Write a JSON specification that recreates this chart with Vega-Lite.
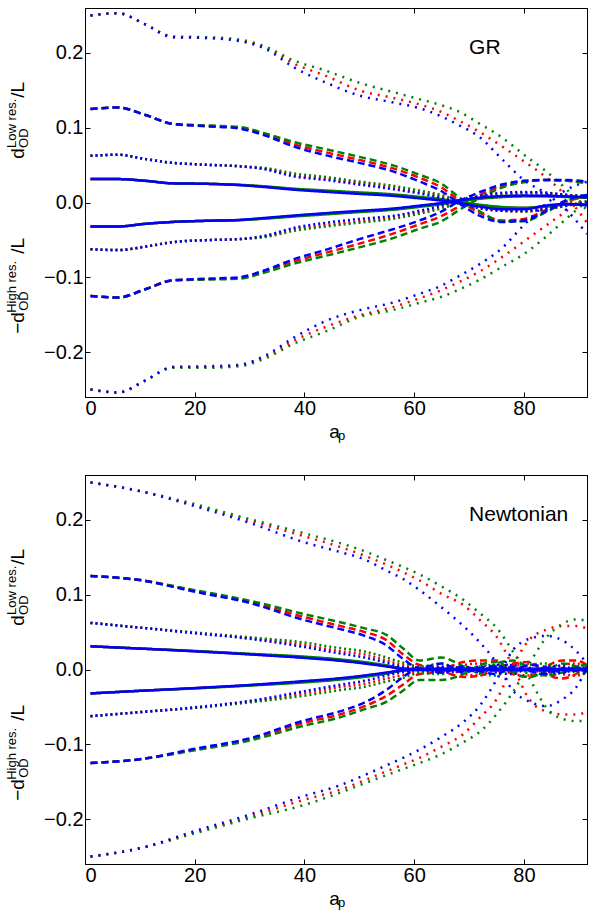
{
"$schema": "https://vega.github.io/schema/vega-lite/v6.json",
"padding": {"left": 5, "top": 7, "right": 1, "bottom": 3},
"spacing": 30,
"config": {
  "font": "Liberation Sans",
  "view": {"stroke": "black", "strokeWidth": 1},
  "axis": {"grid": false, "domainColor": "black", "tickColor": "black", "labelColor": "black", "labelFont": "Liberation Sans", "labelFontSize": 20, "tickWidth": 1},
  "text": {"font": "Liberation Sans", "color": "black"}
},
"datasets": {
"one": [{}],
"gr": [
{"c":"r","s":"sd","h":"u","x":1,"y":0.250},{"c":"r","s":"sd","h":"u","x":6,"y":0.253},{"c":"r","s":"sd","h":"u","x":11,"y":0.238},{"c":"r","s":"sd","h":"u","x":16,"y":0.221},{"c":"r","s":"sd","h":"u","x":22,"y":0.220},{"c":"r","s":"sd","h":"u","x":28,"y":0.217},{"c":"r","s":"sd","h":"u","x":33,"y":0.207},{"c":"r","s":"sd","h":"u","x":38,"y":0.186},{"c":"r","s":"sd","h":"u","x":44,"y":0.169},{"c":"r","s":"sd","h":"u","x":50,"y":0.150},{"c":"r","s":"sd","h":"u","x":56,"y":0.140},{"c":"r","s":"sd","h":"u","x":61,"y":0.131},{"c":"r","s":"sd","h":"u","x":65,"y":0.121},{"c":"r","s":"sd","h":"u","x":68,"y":0.110},{"c":"r","s":"sd","h":"u","x":72,"y":0.094},{"c":"r","s":"sd","h":"u","x":76,"y":0.075},{"c":"r","s":"sd","h":"u","x":80,"y":0.055},{"c":"r","s":"sd","h":"u","x":84,"y":0.034},{"c":"r","s":"sd","h":"u","x":88,"y":0.006},{"c":"r","s":"sd","h":"u","x":91.5,"y":-0.027},
{"c":"r","s":"sd","h":"l","x":1,"y":-0.250},{"c":"r","s":"sd","h":"l","x":6,"y":-0.254},{"c":"r","s":"sd","h":"l","x":11,"y":-0.238},{"c":"r","s":"sd","h":"l","x":16,"y":-0.220},{"c":"r","s":"sd","h":"l","x":22,"y":-0.220},{"c":"r","s":"sd","h":"l","x":28,"y":-0.218},{"c":"r","s":"sd","h":"l","x":33,"y":-0.206},{"c":"r","s":"sd","h":"l","x":38,"y":-0.185},{"c":"r","s":"sd","h":"l","x":44,"y":-0.166},{"c":"r","s":"sd","h":"l","x":50,"y":-0.151},{"c":"r","s":"sd","h":"l","x":56,"y":-0.140},{"c":"r","s":"sd","h":"l","x":61,"y":-0.128},{"c":"r","s":"sd","h":"l","x":65,"y":-0.117},{"c":"r","s":"sd","h":"l","x":68,"y":-0.107},{"c":"r","s":"sd","h":"l","x":72,"y":-0.092},{"c":"r","s":"sd","h":"l","x":76,"y":-0.073},{"c":"r","s":"sd","h":"l","x":80,"y":-0.052},{"c":"r","s":"sd","h":"l","x":84,"y":-0.031},{"c":"r","s":"sd","h":"l","x":88,"y":-0.010},{"c":"r","s":"sd","h":"l","x":91.5,"y":0.008},
{"c":"r","s":"da","h":"u","x":1,"y":0.125},{"c":"r","s":"da","h":"u","x":6,"y":0.127},{"c":"r","s":"da","h":"u","x":11,"y":0.117},{"c":"r","s":"da","h":"u","x":16,"y":0.105},{"c":"r","s":"da","h":"u","x":22,"y":0.1025},{"c":"r","s":"da","h":"u","x":28,"y":0.100},{"c":"r","s":"da","h":"u","x":33,"y":0.091},{"c":"r","s":"da","h":"u","x":38,"y":0.078},{"c":"r","s":"da","h":"u","x":44,"y":0.067},{"c":"r","s":"da","h":"u","x":50,"y":0.057},{"c":"r","s":"da","h":"u","x":56,"y":0.046},{"c":"r","s":"da","h":"u","x":61,"y":0.033},{"c":"r","s":"da","h":"u","x":65,"y":0.020},{"c":"r","s":"da","h":"u","x":68,"y":0.004},{"c":"r","s":"da","h":"u","x":72,"y":-0.014},{"c":"r","s":"da","h":"u","x":76,"y":-0.024},{"c":"r","s":"da","h":"u","x":80,"y":-0.022},{"c":"r","s":"da","h":"u","x":84,"y":-0.010},{"c":"r","s":"da","h":"u","x":88,"y":0.002},{"c":"r","s":"da","h":"u","x":91.5,"y":0.008},
{"c":"r","s":"da","h":"l","x":1,"y":-0.125},{"c":"r","s":"da","h":"l","x":6,"y":-0.127},{"c":"r","s":"da","h":"l","x":11,"y":-0.116},{"c":"r","s":"da","h":"l","x":16,"y":-0.104},{"c":"r","s":"da","h":"l","x":22,"y":-0.1025},{"c":"r","s":"da","h":"l","x":28,"y":-0.101},{"c":"r","s":"da","h":"l","x":33,"y":-0.092},{"c":"r","s":"da","h":"l","x":38,"y":-0.079},{"c":"r","s":"da","h":"l","x":44,"y":-0.067},{"c":"r","s":"da","h":"l","x":50,"y":-0.055},{"c":"r","s":"da","h":"l","x":56,"y":-0.042},{"c":"r","s":"da","h":"l","x":61,"y":-0.029},{"c":"r","s":"da","h":"l","x":65,"y":-0.018},{"c":"r","s":"da","h":"l","x":68,"y":-0.006},{"c":"r","s":"da","h":"l","x":72,"y":0.010},{"c":"r","s":"da","h":"l","x":76,"y":0.022},{"c":"r","s":"da","h":"l","x":80,"y":0.028},{"c":"r","s":"da","h":"l","x":84,"y":0.030},{"c":"r","s":"da","h":"l","x":88,"y":0.029},{"c":"r","s":"da","h":"l","x":91.5,"y":0.026},
{"c":"r","s":"do","h":"u","x":1,"y":0.0625},{"c":"r","s":"do","h":"u","x":6,"y":0.0638},{"c":"r","s":"do","h":"u","x":11,"y":0.058},{"c":"r","s":"do","h":"u","x":16,"y":0.053},{"c":"r","s":"do","h":"u","x":22,"y":0.0505},{"c":"r","s":"do","h":"u","x":28,"y":0.0485},{"c":"r","s":"do","h":"u","x":33,"y":0.045},{"c":"r","s":"do","h":"u","x":38,"y":0.037},{"c":"r","s":"do","h":"u","x":44,"y":0.032},{"c":"r","s":"do","h":"u","x":50,"y":0.026},{"c":"r","s":"do","h":"u","x":56,"y":0.020},{"c":"r","s":"do","h":"u","x":61,"y":0.014},{"c":"r","s":"do","h":"u","x":65,"y":0.008},{"c":"r","s":"do","h":"u","x":68,"y":0.001},{"c":"r","s":"do","h":"u","x":72,"y":-0.007},{"c":"r","s":"do","h":"u","x":76,"y":-0.011},{"c":"r","s":"do","h":"u","x":80,"y":-0.012},{"c":"r","s":"do","h":"u","x":84,"y":-0.009},{"c":"r","s":"do","h":"u","x":88,"y":-0.004},{"c":"r","s":"do","h":"u","x":91.5,"y":0.001},
{"c":"r","s":"do","h":"l","x":1,"y":-0.0625},{"c":"r","s":"do","h":"l","x":6,"y":-0.0636},{"c":"r","s":"do","h":"l","x":11,"y":-0.059},{"c":"r","s":"do","h":"l","x":16,"y":-0.053},{"c":"r","s":"do","h":"l","x":22,"y":-0.0503},{"c":"r","s":"do","h":"l","x":28,"y":-0.049},{"c":"r","s":"do","h":"l","x":33,"y":-0.045},{"c":"r","s":"do","h":"l","x":38,"y":-0.036},{"c":"r","s":"do","h":"l","x":44,"y":-0.030},{"c":"r","s":"do","h":"l","x":50,"y":-0.025},{"c":"r","s":"do","h":"l","x":56,"y":-0.020},{"c":"r","s":"do","h":"l","x":61,"y":-0.013},{"c":"r","s":"do","h":"l","x":65,"y":-0.006},{"c":"r","s":"do","h":"l","x":68,"y":0.001},{"c":"r","s":"do","h":"l","x":72,"y":0.008},{"c":"r","s":"do","h":"l","x":76,"y":0.012},{"c":"r","s":"do","h":"l","x":80,"y":0.013},{"c":"r","s":"do","h":"l","x":84,"y":0.013},{"c":"r","s":"do","h":"l","x":88,"y":0.010},{"c":"r","s":"do","h":"l","x":91.5,"y":0.008},
{"c":"r","s":"so","h":"u","x":1,"y":0.0313},{"c":"r","s":"so","h":"u","x":6,"y":0.0313},{"c":"r","s":"so","h":"u","x":11,"y":0.029},{"c":"r","s":"so","h":"u","x":16,"y":0.0256},{"c":"r","s":"so","h":"u","x":22,"y":0.025},{"c":"r","s":"so","h":"u","x":28,"y":0.0235},{"c":"r","s":"so","h":"u","x":33,"y":0.021},{"c":"r","s":"so","h":"u","x":38,"y":0.0178},{"c":"r","s":"so","h":"u","x":44,"y":0.015},{"c":"r","s":"so","h":"u","x":50,"y":0.0125},{"c":"r","s":"so","h":"u","x":56,"y":0.010},{"c":"r","s":"so","h":"u","x":61,"y":0.0065},{"c":"r","s":"so","h":"u","x":65,"y":0.0035},{"c":"r","s":"so","h":"u","x":68,"y":0.0005},{"c":"r","s":"so","h":"u","x":72,"y":-0.0035},{"c":"r","s":"so","h":"u","x":76,"y":-0.0065},{"c":"r","s":"so","h":"u","x":80,"y":-0.0075},{"c":"r","s":"so","h":"u","x":84,"y":-0.0055},{"c":"r","s":"so","h":"u","x":88,"y":-0.003},{"c":"r","s":"so","h":"u","x":91.5,"y":-0.003},
{"c":"r","s":"so","h":"l","x":1,"y":-0.032},{"c":"r","s":"so","h":"l","x":6,"y":-0.032},{"c":"r","s":"so","h":"l","x":11,"y":-0.0285},{"c":"r","s":"so","h":"l","x":16,"y":-0.026},{"c":"r","s":"so","h":"l","x":22,"y":-0.0245},{"c":"r","s":"so","h":"l","x":28,"y":-0.0235},{"c":"r","s":"so","h":"l","x":33,"y":-0.021},{"c":"r","s":"so","h":"l","x":38,"y":-0.018},{"c":"r","s":"so","h":"l","x":44,"y":-0.0148},{"c":"r","s":"so","h":"l","x":50,"y":-0.0118},{"c":"r","s":"so","h":"l","x":56,"y":-0.0088},{"c":"r","s":"so","h":"l","x":61,"y":-0.0048},{"c":"r","s":"so","h":"l","x":65,"y":-0.0013},{"c":"r","s":"so","h":"l","x":68,"y":0.0018},{"c":"r","s":"so","h":"l","x":72,"y":0.0058},{"c":"r","s":"so","h":"l","x":76,"y":0.0078},{"c":"r","s":"so","h":"l","x":80,"y":0.0088},{"c":"r","s":"so","h":"l","x":84,"y":0.0088},{"c":"r","s":"so","h":"l","x":88,"y":0.0078},{"c":"r","s":"so","h":"l","x":91.5,"y":0.0068},
{"c":"g","s":"sd","h":"u","x":1,"y":0.250},{"c":"g","s":"sd","h":"u","x":6,"y":0.253},{"c":"g","s":"sd","h":"u","x":11,"y":0.238},{"c":"g","s":"sd","h":"u","x":16,"y":0.222},{"c":"g","s":"sd","h":"u","x":22,"y":0.221},{"c":"g","s":"sd","h":"u","x":28,"y":0.218},{"c":"g","s":"sd","h":"u","x":33,"y":0.208},{"c":"g","s":"sd","h":"u","x":38,"y":0.190},{"c":"g","s":"sd","h":"u","x":44,"y":0.176},{"c":"g","s":"sd","h":"u","x":50,"y":0.160},{"c":"g","s":"sd","h":"u","x":56,"y":0.148},{"c":"g","s":"sd","h":"u","x":61,"y":0.138},{"c":"g","s":"sd","h":"u","x":65,"y":0.130},{"c":"g","s":"sd","h":"u","x":68,"y":0.122},{"c":"g","s":"sd","h":"u","x":72,"y":0.105},{"c":"g","s":"sd","h":"u","x":76,"y":0.087},{"c":"g","s":"sd","h":"u","x":80,"y":0.064},{"c":"g","s":"sd","h":"u","x":84,"y":0.042},{"c":"g","s":"sd","h":"u","x":88,"y":0.016},{"c":"g","s":"sd","h":"u","x":91.5,"y":-0.010},
{"c":"g","s":"sd","h":"l","x":1,"y":-0.250},{"c":"g","s":"sd","h":"l","x":6,"y":-0.254},{"c":"g","s":"sd","h":"l","x":11,"y":-0.238},{"c":"g","s":"sd","h":"l","x":16,"y":-0.221},{"c":"g","s":"sd","h":"l","x":22,"y":-0.221},{"c":"g","s":"sd","h":"l","x":28,"y":-0.219},{"c":"g","s":"sd","h":"l","x":33,"y":-0.208},{"c":"g","s":"sd","h":"l","x":38,"y":-0.189},{"c":"g","s":"sd","h":"l","x":44,"y":-0.172},{"c":"g","s":"sd","h":"l","x":50,"y":-0.153},{"c":"g","s":"sd","h":"l","x":56,"y":-0.144},{"c":"g","s":"sd","h":"l","x":61,"y":-0.134},{"c":"g","s":"sd","h":"l","x":65,"y":-0.126},{"c":"g","s":"sd","h":"l","x":68,"y":-0.117},{"c":"g","s":"sd","h":"l","x":72,"y":-0.103},{"c":"g","s":"sd","h":"l","x":76,"y":-0.086},{"c":"g","s":"sd","h":"l","x":80,"y":-0.069},{"c":"g","s":"sd","h":"l","x":84,"y":-0.046},{"c":"g","s":"sd","h":"l","x":88,"y":-0.020},{"c":"g","s":"sd","h":"l","x":91.5,"y":0.002},
{"c":"g","s":"da","h":"u","x":1,"y":0.125},{"c":"g","s":"da","h":"u","x":6,"y":0.127},{"c":"g","s":"da","h":"u","x":11,"y":0.117},{"c":"g","s":"da","h":"u","x":16,"y":0.105},{"c":"g","s":"da","h":"u","x":22,"y":0.103},{"c":"g","s":"da","h":"u","x":28,"y":0.101},{"c":"g","s":"da","h":"u","x":33,"y":0.092},{"c":"g","s":"da","h":"u","x":38,"y":0.081},{"c":"g","s":"da","h":"u","x":44,"y":0.071},{"c":"g","s":"da","h":"u","x":50,"y":0.061},{"c":"g","s":"da","h":"u","x":56,"y":0.050},{"c":"g","s":"da","h":"u","x":61,"y":0.037},{"c":"g","s":"da","h":"u","x":65,"y":0.025},{"c":"g","s":"da","h":"u","x":68,"y":0.008},{"c":"g","s":"da","h":"u","x":72,"y":-0.012},{"c":"g","s":"da","h":"u","x":76,"y":-0.025},{"c":"g","s":"da","h":"u","x":80,"y":-0.025},{"c":"g","s":"da","h":"u","x":84,"y":-0.013},{"c":"g","s":"da","h":"u","x":88,"y":0.002},{"c":"g","s":"da","h":"u","x":91.5,"y":0.010},
{"c":"g","s":"da","h":"l","x":1,"y":-0.125},{"c":"g","s":"da","h":"l","x":6,"y":-0.127},{"c":"g","s":"da","h":"l","x":11,"y":-0.116},{"c":"g","s":"da","h":"l","x":16,"y":-0.104},{"c":"g","s":"da","h":"l","x":22,"y":-0.103},{"c":"g","s":"da","h":"l","x":28,"y":-0.102},{"c":"g","s":"da","h":"l","x":33,"y":-0.093},{"c":"g","s":"da","h":"l","x":38,"y":-0.082},{"c":"g","s":"da","h":"l","x":44,"y":-0.071},{"c":"g","s":"da","h":"l","x":50,"y":-0.060},{"c":"g","s":"da","h":"l","x":56,"y":-0.048},{"c":"g","s":"da","h":"l","x":61,"y":-0.035},{"c":"g","s":"da","h":"l","x":65,"y":-0.025},{"c":"g","s":"da","h":"l","x":68,"y":-0.011},{"c":"g","s":"da","h":"l","x":72,"y":0.006},{"c":"g","s":"da","h":"l","x":76,"y":0.020},{"c":"g","s":"da","h":"l","x":80,"y":0.027},{"c":"g","s":"da","h":"l","x":84,"y":0.030},{"c":"g","s":"da","h":"l","x":88,"y":0.029},{"c":"g","s":"da","h":"l","x":91.5,"y":0.026},
{"c":"g","s":"do","h":"u","x":1,"y":0.0625},{"c":"g","s":"do","h":"u","x":6,"y":0.0638},{"c":"g","s":"do","h":"u","x":11,"y":0.058},{"c":"g","s":"do","h":"u","x":16,"y":0.053},{"c":"g","s":"do","h":"u","x":22,"y":0.0505},{"c":"g","s":"do","h":"u","x":28,"y":0.0485},{"c":"g","s":"do","h":"u","x":33,"y":0.046},{"c":"g","s":"do","h":"u","x":38,"y":0.039},{"c":"g","s":"do","h":"u","x":44,"y":0.034},{"c":"g","s":"do","h":"u","x":50,"y":0.028},{"c":"g","s":"do","h":"u","x":56,"y":0.0225},{"c":"g","s":"do","h":"u","x":61,"y":0.016},{"c":"g","s":"do","h":"u","x":65,"y":0.010},{"c":"g","s":"do","h":"u","x":68,"y":0.003},{"c":"g","s":"do","h":"u","x":72,"y":-0.006},{"c":"g","s":"do","h":"u","x":76,"y":-0.011},{"c":"g","s":"do","h":"u","x":80,"y":-0.012},{"c":"g","s":"do","h":"u","x":84,"y":-0.009},{"c":"g","s":"do","h":"u","x":88,"y":-0.004},{"c":"g","s":"do","h":"u","x":91.5,"y":0.002},
{"c":"g","s":"do","h":"l","x":1,"y":-0.0625},{"c":"g","s":"do","h":"l","x":6,"y":-0.0636},{"c":"g","s":"do","h":"l","x":11,"y":-0.059},{"c":"g","s":"do","h":"l","x":16,"y":-0.053},{"c":"g","s":"do","h":"l","x":22,"y":-0.0503},{"c":"g","s":"do","h":"l","x":28,"y":-0.049},{"c":"g","s":"do","h":"l","x":33,"y":-0.046},{"c":"g","s":"do","h":"l","x":38,"y":-0.038},{"c":"g","s":"do","h":"l","x":44,"y":-0.032},{"c":"g","s":"do","h":"l","x":50,"y":-0.027},{"c":"g","s":"do","h":"l","x":56,"y":-0.022},{"c":"g","s":"do","h":"l","x":61,"y":-0.015},{"c":"g","s":"do","h":"l","x":65,"y":-0.008},{"c":"g","s":"do","h":"l","x":68,"y":-0.001},{"c":"g","s":"do","h":"l","x":72,"y":0.006},{"c":"g","s":"do","h":"l","x":76,"y":0.010},{"c":"g","s":"do","h":"l","x":80,"y":0.012},{"c":"g","s":"do","h":"l","x":84,"y":0.012},{"c":"g","s":"do","h":"l","x":88,"y":0.010},{"c":"g","s":"do","h":"l","x":91.5,"y":0.009},
{"c":"g","s":"so","h":"u","x":1,"y":0.0313},{"c":"g","s":"so","h":"u","x":6,"y":0.0313},{"c":"g","s":"so","h":"u","x":11,"y":0.029},{"c":"g","s":"so","h":"u","x":16,"y":0.0256},{"c":"g","s":"so","h":"u","x":22,"y":0.025},{"c":"g","s":"so","h":"u","x":28,"y":0.0237},{"c":"g","s":"so","h":"u","x":33,"y":0.0215},{"c":"g","s":"so","h":"u","x":38,"y":0.0185},{"c":"g","s":"so","h":"u","x":44,"y":0.016},{"c":"g","s":"so","h":"u","x":50,"y":0.0135},{"c":"g","s":"so","h":"u","x":56,"y":0.011},{"c":"g","s":"so","h":"u","x":61,"y":0.0075},{"c":"g","s":"so","h":"u","x":65,"y":0.0045},{"c":"g","s":"so","h":"u","x":68,"y":0.001},{"c":"g","s":"so","h":"u","x":72,"y":-0.003},{"c":"g","s":"so","h":"u","x":76,"y":-0.006},{"c":"g","s":"so","h":"u","x":80,"y":-0.007},{"c":"g","s":"so","h":"u","x":84,"y":-0.005},{"c":"g","s":"so","h":"u","x":88,"y":-0.0025},{"c":"g","s":"so","h":"u","x":91.5,"y":-0.0025},
{"c":"g","s":"so","h":"l","x":1,"y":-0.032},{"c":"g","s":"so","h":"l","x":6,"y":-0.032},{"c":"g","s":"so","h":"l","x":11,"y":-0.0285},{"c":"g","s":"so","h":"l","x":16,"y":-0.026},{"c":"g","s":"so","h":"l","x":22,"y":-0.0245},{"c":"g","s":"so","h":"l","x":28,"y":-0.0237},{"c":"g","s":"so","h":"l","x":33,"y":-0.0215},{"c":"g","s":"so","h":"l","x":38,"y":-0.0188},{"c":"g","s":"so","h":"l","x":44,"y":-0.0158},{"c":"g","s":"so","h":"l","x":50,"y":-0.0128},{"c":"g","s":"so","h":"l","x":56,"y":-0.0098},{"c":"g","s":"so","h":"l","x":61,"y":-0.0058},{"c":"g","s":"so","h":"l","x":65,"y":-0.0023},{"c":"g","s":"so","h":"l","x":68,"y":0.001},{"c":"g","s":"so","h":"l","x":72,"y":0.005},{"c":"g","s":"so","h":"l","x":76,"y":0.0072},{"c":"g","s":"so","h":"l","x":80,"y":0.0082},{"c":"g","s":"so","h":"l","x":84,"y":0.0082},{"c":"g","s":"so","h":"l","x":88,"y":0.0072},{"c":"g","s":"so","h":"l","x":91.5,"y":0.0062},
{"c":"b","s":"sd","h":"u","x":1,"y":0.250},{"c":"b","s":"sd","h":"u","x":6,"y":0.253},{"c":"b","s":"sd","h":"u","x":11,"y":0.238},{"c":"b","s":"sd","h":"u","x":16,"y":0.221},{"c":"b","s":"sd","h":"u","x":22,"y":0.220},{"c":"b","s":"sd","h":"u","x":28,"y":0.216},{"c":"b","s":"sd","h":"u","x":33,"y":0.205},{"c":"b","s":"sd","h":"u","x":38,"y":0.181},{"c":"b","s":"sd","h":"u","x":44,"y":0.160},{"c":"b","s":"sd","h":"u","x":50,"y":0.143},{"c":"b","s":"sd","h":"u","x":56,"y":0.134},{"c":"b","s":"sd","h":"u","x":61,"y":0.126},{"c":"b","s":"sd","h":"u","x":65,"y":0.115},{"c":"b","s":"sd","h":"u","x":68,"y":0.104},{"c":"b","s":"sd","h":"u","x":72,"y":0.087},{"c":"b","s":"sd","h":"u","x":76,"y":0.058},{"c":"b","s":"sd","h":"u","x":80,"y":0.030},{"c":"b","s":"sd","h":"u","x":84,"y":0.012},{"c":"b","s":"sd","h":"u","x":88,"y":-0.012},{"c":"b","s":"sd","h":"u","x":91.5,"y":-0.042},
{"c":"b","s":"sd","h":"l","x":1,"y":-0.250},{"c":"b","s":"sd","h":"l","x":6,"y":-0.254},{"c":"b","s":"sd","h":"l","x":11,"y":-0.238},{"c":"b","s":"sd","h":"l","x":16,"y":-0.220},{"c":"b","s":"sd","h":"l","x":22,"y":-0.219},{"c":"b","s":"sd","h":"l","x":28,"y":-0.217},{"c":"b","s":"sd","h":"l","x":33,"y":-0.204},{"c":"b","s":"sd","h":"l","x":38,"y":-0.181},{"c":"b","s":"sd","h":"l","x":44,"y":-0.158},{"c":"b","s":"sd","h":"l","x":50,"y":-0.144},{"c":"b","s":"sd","h":"l","x":56,"y":-0.134},{"c":"b","s":"sd","h":"l","x":61,"y":-0.122},{"c":"b","s":"sd","h":"l","x":65,"y":-0.111},{"c":"b","s":"sd","h":"l","x":68,"y":-0.099},{"c":"b","s":"sd","h":"l","x":72,"y":-0.082},{"c":"b","s":"sd","h":"l","x":76,"y":-0.061},{"c":"b","s":"sd","h":"l","x":80,"y":-0.030},{"c":"b","s":"sd","h":"l","x":84,"y":-0.002},{"c":"b","s":"sd","h":"l","x":88,"y":0.018},{"c":"b","s":"sd","h":"l","x":91.5,"y":0.028},
{"c":"b","s":"da","h":"u","x":1,"y":0.125},{"c":"b","s":"da","h":"u","x":6,"y":0.127},{"c":"b","s":"da","h":"u","x":11,"y":0.117},{"c":"b","s":"da","h":"u","x":16,"y":0.105},{"c":"b","s":"da","h":"u","x":22,"y":0.102},{"c":"b","s":"da","h":"u","x":28,"y":0.099},{"c":"b","s":"da","h":"u","x":33,"y":0.089},{"c":"b","s":"da","h":"u","x":38,"y":0.075},{"c":"b","s":"da","h":"u","x":44,"y":0.063},{"c":"b","s":"da","h":"u","x":50,"y":0.053},{"c":"b","s":"da","h":"u","x":56,"y":0.042},{"c":"b","s":"da","h":"u","x":61,"y":0.028},{"c":"b","s":"da","h":"u","x":65,"y":0.015},{"c":"b","s":"da","h":"u","x":68,"y":0.000},{"c":"b","s":"da","h":"u","x":72,"y":-0.018},{"c":"b","s":"da","h":"u","x":76,"y":-0.026},{"c":"b","s":"da","h":"u","x":80,"y":-0.024},{"c":"b","s":"da","h":"u","x":84,"y":-0.012},{"c":"b","s":"da","h":"u","x":88,"y":0.004},{"c":"b","s":"da","h":"u","x":91.5,"y":0.010},
{"c":"b","s":"da","h":"l","x":1,"y":-0.125},{"c":"b","s":"da","h":"l","x":6,"y":-0.127},{"c":"b","s":"da","h":"l","x":11,"y":-0.116},{"c":"b","s":"da","h":"l","x":16,"y":-0.104},{"c":"b","s":"da","h":"l","x":22,"y":-0.102},{"c":"b","s":"da","h":"l","x":28,"y":-0.100},{"c":"b","s":"da","h":"l","x":33,"y":-0.090},{"c":"b","s":"da","h":"l","x":38,"y":-0.076},{"c":"b","s":"da","h":"l","x":44,"y":-0.063},{"c":"b","s":"da","h":"l","x":50,"y":-0.049},{"c":"b","s":"da","h":"l","x":56,"y":-0.036},{"c":"b","s":"da","h":"l","x":61,"y":-0.024},{"c":"b","s":"da","h":"l","x":65,"y":-0.012},{"c":"b","s":"da","h":"l","x":68,"y":0.001},{"c":"b","s":"da","h":"l","x":72,"y":0.014},{"c":"b","s":"da","h":"l","x":76,"y":0.024},{"c":"b","s":"da","h":"l","x":80,"y":0.029},{"c":"b","s":"da","h":"l","x":84,"y":0.030},{"c":"b","s":"da","h":"l","x":88,"y":0.030},{"c":"b","s":"da","h":"l","x":91.5,"y":0.028},
{"c":"b","s":"do","h":"u","x":1,"y":0.0625},{"c":"b","s":"do","h":"u","x":6,"y":0.0638},{"c":"b","s":"do","h":"u","x":11,"y":0.058},{"c":"b","s":"do","h":"u","x":16,"y":0.053},{"c":"b","s":"do","h":"u","x":22,"y":0.0505},{"c":"b","s":"do","h":"u","x":28,"y":0.0485},{"c":"b","s":"do","h":"u","x":33,"y":0.044},{"c":"b","s":"do","h":"u","x":38,"y":0.035},{"c":"b","s":"do","h":"u","x":44,"y":0.030},{"c":"b","s":"do","h":"u","x":50,"y":0.024},{"c":"b","s":"do","h":"u","x":56,"y":0.018},{"c":"b","s":"do","h":"u","x":61,"y":0.012},{"c":"b","s":"do","h":"u","x":65,"y":0.006},{"c":"b","s":"do","h":"u","x":68,"y":0.000},{"c":"b","s":"do","h":"u","x":72,"y":-0.008},{"c":"b","s":"do","h":"u","x":76,"y":-0.011},{"c":"b","s":"do","h":"u","x":80,"y":-0.011},{"c":"b","s":"do","h":"u","x":84,"y":-0.008},{"c":"b","s":"do","h":"u","x":88,"y":-0.004},{"c":"b","s":"do","h":"u","x":91.5,"y":0.000},
{"c":"b","s":"do","h":"l","x":1,"y":-0.0625},{"c":"b","s":"do","h":"l","x":6,"y":-0.0636},{"c":"b","s":"do","h":"l","x":11,"y":-0.059},{"c":"b","s":"do","h":"l","x":16,"y":-0.053},{"c":"b","s":"do","h":"l","x":22,"y":-0.0503},{"c":"b","s":"do","h":"l","x":28,"y":-0.049},{"c":"b","s":"do","h":"l","x":33,"y":-0.044},{"c":"b","s":"do","h":"l","x":38,"y":-0.034},{"c":"b","s":"do","h":"l","x":44,"y":-0.027},{"c":"b","s":"do","h":"l","x":50,"y":-0.022},{"c":"b","s":"do","h":"l","x":56,"y":-0.018},{"c":"b","s":"do","h":"l","x":61,"y":-0.011},{"c":"b","s":"do","h":"l","x":65,"y":-0.004},{"c":"b","s":"do","h":"l","x":68,"y":0.003},{"c":"b","s":"do","h":"l","x":72,"y":0.009},{"c":"b","s":"do","h":"l","x":76,"y":0.013},{"c":"b","s":"do","h":"l","x":80,"y":0.014},{"c":"b","s":"do","h":"l","x":84,"y":0.013},{"c":"b","s":"do","h":"l","x":88,"y":0.010},{"c":"b","s":"do","h":"l","x":91.5,"y":0.008},
{"c":"b","s":"so","h":"u","x":1,"y":0.0313},{"c":"b","s":"so","h":"u","x":6,"y":0.0313},{"c":"b","s":"so","h":"u","x":11,"y":0.029},{"c":"b","s":"so","h":"u","x":16,"y":0.0256},{"c":"b","s":"so","h":"u","x":22,"y":0.025},{"c":"b","s":"so","h":"u","x":28,"y":0.0233},{"c":"b","s":"so","h":"u","x":33,"y":0.0205},{"c":"b","s":"so","h":"u","x":38,"y":0.0172},{"c":"b","s":"so","h":"u","x":44,"y":0.0142},{"c":"b","s":"so","h":"u","x":50,"y":0.0115},{"c":"b","s":"so","h":"u","x":56,"y":0.009},{"c":"b","s":"so","h":"u","x":61,"y":0.0055},{"c":"b","s":"so","h":"u","x":65,"y":0.0025},{"c":"b","s":"so","h":"u","x":68,"y":-0.0005},{"c":"b","s":"so","h":"u","x":72,"y":-0.0055},{"c":"b","s":"so","h":"u","x":76,"y":-0.009},{"c":"b","s":"so","h":"u","x":80,"y":-0.009},{"c":"b","s":"so","h":"u","x":84,"y":-0.004},{"c":"b","s":"so","h":"u","x":88,"y":-0.002},{"c":"b","s":"so","h":"u","x":91.5,"y":-0.004},
{"c":"b","s":"so","h":"l","x":1,"y":-0.032},{"c":"b","s":"so","h":"l","x":6,"y":-0.032},{"c":"b","s":"so","h":"l","x":11,"y":-0.0285},{"c":"b","s":"so","h":"l","x":16,"y":-0.026},{"c":"b","s":"so","h":"l","x":22,"y":-0.0245},{"c":"b","s":"so","h":"l","x":28,"y":-0.0233},{"c":"b","s":"so","h":"l","x":33,"y":-0.0205},{"c":"b","s":"so","h":"l","x":38,"y":-0.0175},{"c":"b","s":"so","h":"l","x":44,"y":-0.0142},{"c":"b","s":"so","h":"l","x":50,"y":-0.0112},{"c":"b","s":"so","h":"l","x":56,"y":-0.0082},{"c":"b","s":"so","h":"l","x":61,"y":-0.0042},{"c":"b","s":"so","h":"l","x":65,"y":-0.0007},{"c":"b","s":"so","h":"l","x":68,"y":0.0025},{"c":"b","s":"so","h":"l","x":72,"y":0.0065},{"c":"b","s":"so","h":"l","x":76,"y":0.0085},{"c":"b","s":"so","h":"l","x":80,"y":0.0092},{"c":"b","s":"so","h":"l","x":84,"y":0.009},{"c":"b","s":"so","h":"l","x":88,"y":0.008},{"c":"b","s":"so","h":"l","x":91.5,"y":0.007}
],
"nw": [
{"c":"r","s":"sd","h":"u","x":1,"y":0.250},{"c":"r","s":"sd","h":"u","x":10,"y":0.2385},{"c":"r","s":"sd","h":"u","x":20,"y":0.220},{"c":"r","s":"sd","h":"u","x":30,"y":0.199},{"c":"r","s":"sd","h":"u","x":40,"y":0.178},{"c":"r","s":"sd","h":"u","x":46,"y":0.165},{"c":"r","s":"sd","h":"u","x":51,"y":0.152},{"c":"r","s":"sd","h":"u","x":55,"y":0.140},{"c":"r","s":"sd","h":"u","x":58,"y":0.130},{"c":"r","s":"sd","h":"u","x":61,"y":0.119},{"c":"r","s":"sd","h":"u","x":65,"y":0.101},{"c":"r","s":"sd","h":"u","x":69,"y":0.086},{"c":"r","s":"sd","h":"u","x":72,"y":0.066},{"c":"r","s":"sd","h":"u","x":75,"y":0.044},{"c":"r","s":"sd","h":"u","x":78,"y":0.004},{"c":"r","s":"sd","h":"u","x":81,"y":-0.040},{"c":"r","s":"sd","h":"u","x":84,"y":-0.056},{"c":"r","s":"sd","h":"u","x":87,"y":-0.060},{"c":"r","s":"sd","h":"u","x":89.5,"y":-0.060},{"c":"r","s":"sd","h":"u","x":91.5,"y":-0.057},
{"c":"r","s":"sd","h":"l","x":1,"y":-0.250},{"c":"r","s":"sd","h":"l","x":10,"y":-0.239},{"c":"r","s":"sd","h":"l","x":20,"y":-0.218},{"c":"r","s":"sd","h":"l","x":30,"y":-0.197},{"c":"r","s":"sd","h":"l","x":40,"y":-0.174},{"c":"r","s":"sd","h":"l","x":46,"y":-0.162},{"c":"r","s":"sd","h":"l","x":51,"y":-0.148},{"c":"r","s":"sd","h":"l","x":55,"y":-0.136},{"c":"r","s":"sd","h":"l","x":58,"y":-0.127},{"c":"r","s":"sd","h":"l","x":61,"y":-0.118},{"c":"r","s":"sd","h":"l","x":65,"y":-0.103},{"c":"r","s":"sd","h":"l","x":69,"y":-0.086},{"c":"r","s":"sd","h":"l","x":72,"y":-0.064},{"c":"r","s":"sd","h":"l","x":75,"y":-0.040},{"c":"r","s":"sd","h":"l","x":78,"y":0.005},{"c":"r","s":"sd","h":"l","x":81,"y":0.040},{"c":"r","s":"sd","h":"l","x":84,"y":0.053},{"c":"r","s":"sd","h":"l","x":87,"y":0.058},{"c":"r","s":"sd","h":"l","x":89.5,"y":0.058},{"c":"r","s":"sd","h":"l","x":91.5,"y":0.055},
{"c":"r","s":"da","h":"u","x":1,"y":0.125},{"c":"r","s":"da","h":"u","x":10,"y":0.1195},{"c":"r","s":"da","h":"u","x":20,"y":0.105},{"c":"r","s":"da","h":"u","x":30,"y":0.090},{"c":"r","s":"da","h":"u","x":40,"y":0.070},{"c":"r","s":"da","h":"u","x":46,"y":0.059},{"c":"r","s":"da","h":"u","x":51,"y":0.050},{"c":"r","s":"da","h":"u","x":55,"y":0.039},{"c":"r","s":"da","h":"u","x":58,"y":0.020},{"c":"r","s":"da","h":"u","x":61,"y":0.006},{"c":"r","s":"da","h":"u","x":65,"y":0.002},{"c":"r","s":"da","h":"u","x":69,"y":0.010},{"c":"r","s":"da","h":"u","x":72,"y":0.012},{"c":"r","s":"da","h":"u","x":75,"y":0.012},{"c":"r","s":"da","h":"u","x":78,"y":-0.006},{"c":"r","s":"da","h":"u","x":81,"y":-0.010},{"c":"r","s":"da","h":"u","x":84,"y":0.004},{"c":"r","s":"da","h":"u","x":87,"y":0.012},{"c":"r","s":"da","h":"u","x":89.5,"y":0.012},{"c":"r","s":"da","h":"u","x":91.5,"y":0.006},
{"c":"r","s":"da","h":"l","x":1,"y":-0.125},{"c":"r","s":"da","h":"l","x":10,"y":-0.120},{"c":"r","s":"da","h":"l","x":20,"y":-0.107},{"c":"r","s":"da","h":"l","x":30,"y":-0.093},{"c":"r","s":"da","h":"l","x":40,"y":-0.071},{"c":"r","s":"da","h":"l","x":46,"y":-0.061},{"c":"r","s":"da","h":"l","x":51,"y":-0.049},{"c":"r","s":"da","h":"l","x":55,"y":-0.035},{"c":"r","s":"da","h":"l","x":58,"y":-0.020},{"c":"r","s":"da","h":"l","x":61,"y":-0.006},{"c":"r","s":"da","h":"l","x":65,"y":-0.004},{"c":"r","s":"da","h":"l","x":69,"y":-0.010},{"c":"r","s":"da","h":"l","x":72,"y":-0.008},{"c":"r","s":"da","h":"l","x":75,"y":0.002},{"c":"r","s":"da","h":"l","x":78,"y":0.008},{"c":"r","s":"da","h":"l","x":81,"y":0.010},{"c":"r","s":"da","h":"l","x":84,"y":-0.006},{"c":"r","s":"da","h":"l","x":87,"y":-0.012},{"c":"r","s":"da","h":"l","x":89.5,"y":-0.006},{"c":"r","s":"da","h":"l","x":91.5,"y":0.004},
{"c":"r","s":"do","h":"u","x":1,"y":0.0623},{"c":"r","s":"do","h":"u","x":10,"y":0.056},{"c":"r","s":"do","h":"u","x":20,"y":0.049},{"c":"r","s":"do","h":"u","x":30,"y":0.042},{"c":"r","s":"do","h":"u","x":40,"y":0.033},{"c":"r","s":"do","h":"u","x":46,"y":0.025},{"c":"r","s":"do","h":"u","x":51,"y":0.020},{"c":"r","s":"do","h":"u","x":55,"y":0.012},{"c":"r","s":"do","h":"u","x":58,"y":0.006},{"c":"r","s":"do","h":"u","x":61,"y":0.002},{"c":"r","s":"do","h":"u","x":65,"y":-0.004},{"c":"r","s":"do","h":"u","x":69,"y":0.006},{"c":"r","s":"do","h":"u","x":72,"y":0.008},{"c":"r","s":"do","h":"u","x":75,"y":-0.002},{"c":"r","s":"do","h":"u","x":78,"y":0.004},{"c":"r","s":"do","h":"u","x":81,"y":0.008},{"c":"r","s":"do","h":"u","x":84,"y":-0.004},{"c":"r","s":"do","h":"u","x":87,"y":0.006},{"c":"r","s":"do","h":"u","x":89.5,"y":0.008},{"c":"r","s":"do","h":"u","x":91.5,"y":0.004},
{"c":"r","s":"do","h":"l","x":1,"y":-0.0624},{"c":"r","s":"do","h":"l","x":10,"y":-0.057},{"c":"r","s":"do","h":"l","x":20,"y":-0.051},{"c":"r","s":"do","h":"l","x":30,"y":-0.043},{"c":"r","s":"do","h":"l","x":40,"y":-0.032},{"c":"r","s":"do","h":"l","x":46,"y":-0.024},{"c":"r","s":"do","h":"l","x":51,"y":-0.019},{"c":"r","s":"do","h":"l","x":55,"y":-0.012},{"c":"r","s":"do","h":"l","x":58,"y":-0.007},{"c":"r","s":"do","h":"l","x":61,"y":-0.003},{"c":"r","s":"do","h":"l","x":65,"y":0.003},{"c":"r","s":"do","h":"l","x":69,"y":-0.006},{"c":"r","s":"do","h":"l","x":72,"y":-0.008},{"c":"r","s":"do","h":"l","x":75,"y":0.002},{"c":"r","s":"do","h":"l","x":78,"y":-0.006},{"c":"r","s":"do","h":"l","x":81,"y":-0.008},{"c":"r","s":"do","h":"l","x":84,"y":0.004},{"c":"r","s":"do","h":"l","x":87,"y":-0.006},{"c":"r","s":"do","h":"l","x":89.5,"y":-0.008},{"c":"r","s":"do","h":"l","x":91.5,"y":-0.004},
{"c":"r","s":"so","h":"u","x":1,"y":0.031},{"c":"r","s":"so","h":"u","x":10,"y":0.028},{"c":"r","s":"so","h":"u","x":20,"y":0.0245},{"c":"r","s":"so","h":"u","x":30,"y":0.0205},{"c":"r","s":"so","h":"u","x":40,"y":0.016},{"c":"r","s":"so","h":"u","x":46,"y":0.0125},{"c":"r","s":"so","h":"u","x":51,"y":0.0085},{"c":"r","s":"so","h":"u","x":55,"y":0.0045},{"c":"r","s":"so","h":"u","x":58,"y":0.001},{"c":"r","s":"so","h":"u","x":61,"y":0.001},{"c":"r","s":"so","h":"u","x":65,"y":0},{"c":"r","s":"so","h":"u","x":69,"y":-0.001},{"c":"r","s":"so","h":"u","x":72,"y":0.001},{"c":"r","s":"so","h":"u","x":75,"y":0},{"c":"r","s":"so","h":"u","x":78,"y":-0.001},{"c":"r","s":"so","h":"u","x":81,"y":0.001},{"c":"r","s":"so","h":"u","x":84,"y":0},{"c":"r","s":"so","h":"u","x":87,"y":0.001},{"c":"r","s":"so","h":"u","x":89.5,"y":0},{"c":"r","s":"so","h":"u","x":91.5,"y":0},
{"c":"r","s":"so","h":"l","x":1,"y":-0.032},{"c":"r","s":"so","h":"l","x":10,"y":-0.0285},{"c":"r","s":"so","h":"l","x":20,"y":-0.025},{"c":"r","s":"so","h":"l","x":30,"y":-0.021},{"c":"r","s":"so","h":"l","x":40,"y":-0.016},{"c":"r","s":"so","h":"l","x":46,"y":-0.0125},{"c":"r","s":"so","h":"l","x":51,"y":-0.0085},{"c":"r","s":"so","h":"l","x":55,"y":-0.0045},{"c":"r","s":"so","h":"l","x":58,"y":-0.001},{"c":"r","s":"so","h":"l","x":61,"y":-0.001},{"c":"r","s":"so","h":"l","x":65,"y":0},{"c":"r","s":"so","h":"l","x":69,"y":0.001},{"c":"r","s":"so","h":"l","x":72,"y":-0.001},{"c":"r","s":"so","h":"l","x":75,"y":0},{"c":"r","s":"so","h":"l","x":78,"y":0.001},{"c":"r","s":"so","h":"l","x":81,"y":-0.001},{"c":"r","s":"so","h":"l","x":84,"y":0},{"c":"r","s":"so","h":"l","x":87,"y":-0.001},{"c":"r","s":"so","h":"l","x":89.5,"y":0},{"c":"r","s":"so","h":"l","x":91.5,"y":0},
{"c":"g","s":"sd","h":"u","x":1,"y":0.250},{"c":"g","s":"sd","h":"u","x":10,"y":0.2385},{"c":"g","s":"sd","h":"u","x":20,"y":0.221},{"c":"g","s":"sd","h":"u","x":30,"y":0.201},{"c":"g","s":"sd","h":"u","x":40,"y":0.182},{"c":"g","s":"sd","h":"u","x":46,"y":0.170},{"c":"g","s":"sd","h":"u","x":51,"y":0.158},{"c":"g","s":"sd","h":"u","x":55,"y":0.146},{"c":"g","s":"sd","h":"u","x":58,"y":0.137},{"c":"g","s":"sd","h":"u","x":61,"y":0.127},{"c":"g","s":"sd","h":"u","x":65,"y":0.111},{"c":"g","s":"sd","h":"u","x":69,"y":0.093},{"c":"g","s":"sd","h":"u","x":72,"y":0.075},{"c":"g","s":"sd","h":"u","x":75,"y":0.056},{"c":"g","s":"sd","h":"u","x":78,"y":0.024},{"c":"g","s":"sd","h":"u","x":81,"y":-0.012},{"c":"g","s":"sd","h":"u","x":84,"y":-0.050},{"c":"g","s":"sd","h":"u","x":87,"y":-0.066},{"c":"g","s":"sd","h":"u","x":89.5,"y":-0.069},{"c":"g","s":"sd","h":"u","x":91.5,"y":-0.068},
{"c":"g","s":"sd","h":"l","x":1,"y":-0.250},{"c":"g","s":"sd","h":"l","x":10,"y":-0.239},{"c":"g","s":"sd","h":"l","x":20,"y":-0.219},{"c":"g","s":"sd","h":"l","x":30,"y":-0.199},{"c":"g","s":"sd","h":"l","x":40,"y":-0.181},{"c":"g","s":"sd","h":"l","x":46,"y":-0.166},{"c":"g","s":"sd","h":"l","x":51,"y":-0.152},{"c":"g","s":"sd","h":"l","x":55,"y":-0.141},{"c":"g","s":"sd","h":"l","x":58,"y":-0.133},{"c":"g","s":"sd","h":"l","x":61,"y":-0.125},{"c":"g","s":"sd","h":"l","x":65,"y":-0.113},{"c":"g","s":"sd","h":"l","x":69,"y":-0.097},{"c":"g","s":"sd","h":"l","x":72,"y":-0.083},{"c":"g","s":"sd","h":"l","x":75,"y":-0.060},{"c":"g","s":"sd","h":"l","x":78,"y":-0.030},{"c":"g","s":"sd","h":"l","x":81,"y":0.008},{"c":"g","s":"sd","h":"l","x":84,"y":0.042},{"c":"g","s":"sd","h":"l","x":87,"y":0.061},{"c":"g","s":"sd","h":"l","x":89.5,"y":0.067},{"c":"g","s":"sd","h":"l","x":91.5,"y":0.065},
{"c":"g","s":"da","h":"u","x":1,"y":0.125},{"c":"g","s":"da","h":"u","x":10,"y":0.1195},{"c":"g","s":"da","h":"u","x":20,"y":0.106},{"c":"g","s":"da","h":"u","x":30,"y":0.092},{"c":"g","s":"da","h":"u","x":40,"y":0.074},{"c":"g","s":"da","h":"u","x":46,"y":0.064},{"c":"g","s":"da","h":"u","x":51,"y":0.055},{"c":"g","s":"da","h":"u","x":55,"y":0.046},{"c":"g","s":"da","h":"u","x":58,"y":0.028},{"c":"g","s":"da","h":"u","x":61,"y":0.012},{"c":"g","s":"da","h":"u","x":65,"y":0.016},{"c":"g","s":"da","h":"u","x":69,"y":0.004},{"c":"g","s":"da","h":"u","x":72,"y":-0.004},{"c":"g","s":"da","h":"u","x":75,"y":0.008},{"c":"g","s":"da","h":"u","x":78,"y":0.012},{"c":"g","s":"da","h":"u","x":81,"y":0.002},{"c":"g","s":"da","h":"u","x":84,"y":-0.008},{"c":"g","s":"da","h":"u","x":87,"y":-0.004},{"c":"g","s":"da","h":"u","x":89.5,"y":0.004},{"c":"g","s":"da","h":"u","x":91.5,"y":0.006},
{"c":"g","s":"da","h":"l","x":1,"y":-0.125},{"c":"g","s":"da","h":"l","x":10,"y":-0.120},{"c":"g","s":"da","h":"l","x":20,"y":-0.108},{"c":"g","s":"da","h":"l","x":30,"y":-0.095},{"c":"g","s":"da","h":"l","x":40,"y":-0.075},{"c":"g","s":"da","h":"l","x":46,"y":-0.065},{"c":"g","s":"da","h":"l","x":51,"y":-0.053},{"c":"g","s":"da","h":"l","x":55,"y":-0.043},{"c":"g","s":"da","h":"l","x":58,"y":-0.028},{"c":"g","s":"da","h":"l","x":61,"y":-0.014},{"c":"g","s":"da","h":"l","x":65,"y":-0.014},{"c":"g","s":"da","h":"l","x":69,"y":-0.006},{"c":"g","s":"da","h":"l","x":72,"y":0.006},{"c":"g","s":"da","h":"l","x":75,"y":0.010},{"c":"g","s":"da","h":"l","x":78,"y":-0.004},{"c":"g","s":"da","h":"l","x":81,"y":-0.010},{"c":"g","s":"da","h":"l","x":84,"y":-0.002},{"c":"g","s":"da","h":"l","x":87,"y":0.008},{"c":"g","s":"da","h":"l","x":89.5,"y":0.004},{"c":"g","s":"da","h":"l","x":91.5,"y":-0.004},
{"c":"g","s":"do","h":"u","x":1,"y":0.0623},{"c":"g","s":"do","h":"u","x":10,"y":0.056},{"c":"g","s":"do","h":"u","x":20,"y":0.0495},{"c":"g","s":"do","h":"u","x":30,"y":0.043},{"c":"g","s":"do","h":"u","x":40,"y":0.036},{"c":"g","s":"do","h":"u","x":46,"y":0.029},{"c":"g","s":"do","h":"u","x":51,"y":0.024},{"c":"g","s":"do","h":"u","x":55,"y":0.016},{"c":"g","s":"do","h":"u","x":58,"y":0.009},{"c":"g","s":"do","h":"u","x":61,"y":0.004},{"c":"g","s":"do","h":"u","x":65,"y":0.008},{"c":"g","s":"do","h":"u","x":69,"y":-0.004},{"c":"g","s":"do","h":"u","x":72,"y":0.004},{"c":"g","s":"do","h":"u","x":75,"y":0.006},{"c":"g","s":"do","h":"u","x":78,"y":-0.004},{"c":"g","s":"do","h":"u","x":81,"y":0.006},{"c":"g","s":"do","h":"u","x":84,"y":0.008},{"c":"g","s":"do","h":"u","x":87,"y":-0.002},{"c":"g","s":"do","h":"u","x":89.5,"y":0.004},{"c":"g","s":"do","h":"u","x":91.5,"y":0.006},
{"c":"g","s":"do","h":"l","x":1,"y":-0.0624},{"c":"g","s":"do","h":"l","x":10,"y":-0.057},{"c":"g","s":"do","h":"l","x":20,"y":-0.0515},{"c":"g","s":"do","h":"l","x":30,"y":-0.044},{"c":"g","s":"do","h":"l","x":40,"y":-0.035},{"c":"g","s":"do","h":"l","x":46,"y":-0.028},{"c":"g","s":"do","h":"l","x":51,"y":-0.023},{"c":"g","s":"do","h":"l","x":55,"y":-0.016},{"c":"g","s":"do","h":"l","x":58,"y":-0.011},{"c":"g","s":"do","h":"l","x":61,"y":-0.005},{"c":"g","s":"do","h":"l","x":65,"y":-0.006},{"c":"g","s":"do","h":"l","x":69,"y":0.004},{"c":"g","s":"do","h":"l","x":72,"y":-0.006},{"c":"g","s":"do","h":"l","x":75,"y":-0.008},{"c":"g","s":"do","h":"l","x":78,"y":0.003},{"c":"g","s":"do","h":"l","x":81,"y":-0.006},{"c":"g","s":"do","h":"l","x":84,"y":-0.008},{"c":"g","s":"do","h":"l","x":87,"y":0.002},{"c":"g","s":"do","h":"l","x":89.5,"y":-0.004},{"c":"g","s":"do","h":"l","x":91.5,"y":-0.006},
{"c":"g","s":"so","h":"u","x":1,"y":0.031},{"c":"g","s":"so","h":"u","x":10,"y":0.028},{"c":"g","s":"so","h":"u","x":20,"y":0.0248},{"c":"g","s":"so","h":"u","x":30,"y":0.021},{"c":"g","s":"so","h":"u","x":40,"y":0.0172},{"c":"g","s":"so","h":"u","x":46,"y":0.0138},{"c":"g","s":"so","h":"u","x":51,"y":0.0098},{"c":"g","s":"so","h":"u","x":55,"y":0.0055},{"c":"g","s":"so","h":"u","x":58,"y":0.0015},{"c":"g","s":"so","h":"u","x":61,"y":0},{"c":"g","s":"so","h":"u","x":65,"y":0.001},{"c":"g","s":"so","h":"u","x":69,"y":0},{"c":"g","s":"so","h":"u","x":72,"y":-0.001},{"c":"g","s":"so","h":"u","x":75,"y":0.001},{"c":"g","s":"so","h":"u","x":78,"y":0},{"c":"g","s":"so","h":"u","x":81,"y":-0.001},{"c":"g","s":"so","h":"u","x":84,"y":0.001},{"c":"g","s":"so","h":"u","x":87,"y":0},{"c":"g","s":"so","h":"u","x":89.5,"y":-0.001},{"c":"g","s":"so","h":"u","x":91.5,"y":0},
{"c":"g","s":"so","h":"l","x":1,"y":-0.032},{"c":"g","s":"so","h":"l","x":10,"y":-0.0285},{"c":"g","s":"so","h":"l","x":20,"y":-0.0253},{"c":"g","s":"so","h":"l","x":30,"y":-0.0215},{"c":"g","s":"so","h":"l","x":40,"y":-0.0172},{"c":"g","s":"so","h":"l","x":46,"y":-0.0138},{"c":"g","s":"so","h":"l","x":51,"y":-0.0098},{"c":"g","s":"so","h":"l","x":55,"y":-0.0055},{"c":"g","s":"so","h":"l","x":58,"y":-0.0015},{"c":"g","s":"so","h":"l","x":61,"y":0},{"c":"g","s":"so","h":"l","x":65,"y":-0.001},{"c":"g","s":"so","h":"l","x":69,"y":0},{"c":"g","s":"so","h":"l","x":72,"y":0.001},{"c":"g","s":"so","h":"l","x":75,"y":-0.001},{"c":"g","s":"so","h":"l","x":78,"y":0},{"c":"g","s":"so","h":"l","x":81,"y":0.001},{"c":"g","s":"so","h":"l","x":84,"y":-0.001},{"c":"g","s":"so","h":"l","x":87,"y":0},{"c":"g","s":"so","h":"l","x":89.5,"y":0.001},{"c":"g","s":"so","h":"l","x":91.5,"y":0},
{"c":"b","s":"sd","h":"u","x":1,"y":0.250},{"c":"b","s":"sd","h":"u","x":10,"y":0.2385},{"c":"b","s":"sd","h":"u","x":20,"y":0.2183},{"c":"b","s":"sd","h":"u","x":30,"y":0.196},{"c":"b","s":"sd","h":"u","x":40,"y":0.170},{"c":"b","s":"sd","h":"u","x":46,"y":0.158},{"c":"b","s":"sd","h":"u","x":51,"y":0.147},{"c":"b","s":"sd","h":"u","x":55,"y":0.132},{"c":"b","s":"sd","h":"u","x":58,"y":0.121},{"c":"b","s":"sd","h":"u","x":61,"y":0.106},{"c":"b","s":"sd","h":"u","x":65,"y":0.083},{"c":"b","s":"sd","h":"u","x":69,"y":0.058},{"c":"b","s":"sd","h":"u","x":72,"y":0.036},{"c":"b","s":"sd","h":"u","x":75,"y":0.009},{"c":"b","s":"sd","h":"u","x":78,"y":-0.028},{"c":"b","s":"sd","h":"u","x":81,"y":-0.043},{"c":"b","s":"sd","h":"u","x":84,"y":-0.049},{"c":"b","s":"sd","h":"u","x":87,"y":-0.040},{"c":"b","s":"sd","h":"u","x":89.5,"y":-0.024},{"c":"b","s":"sd","h":"u","x":91.5,"y":0.002},
{"c":"b","s":"sd","h":"l","x":1,"y":-0.250},{"c":"b","s":"sd","h":"l","x":10,"y":-0.239},{"c":"b","s":"sd","h":"l","x":20,"y":-0.216},{"c":"b","s":"sd","h":"l","x":30,"y":-0.194},{"c":"b","s":"sd","h":"l","x":40,"y":-0.169},{"c":"b","s":"sd","h":"l","x":46,"y":-0.156},{"c":"b","s":"sd","h":"l","x":51,"y":-0.141},{"c":"b","s":"sd","h":"l","x":55,"y":-0.128},{"c":"b","s":"sd","h":"l","x":58,"y":-0.118},{"c":"b","s":"sd","h":"l","x":61,"y":-0.107},{"c":"b","s":"sd","h":"l","x":65,"y":-0.090},{"c":"b","s":"sd","h":"l","x":69,"y":-0.070},{"c":"b","s":"sd","h":"l","x":72,"y":-0.048},{"c":"b","s":"sd","h":"l","x":75,"y":-0.014},{"c":"b","s":"sd","h":"l","x":78,"y":0.026},{"c":"b","s":"sd","h":"l","x":81,"y":0.041},{"c":"b","s":"sd","h":"l","x":84,"y":0.045},{"c":"b","s":"sd","h":"l","x":87,"y":0.039},{"c":"b","s":"sd","h":"l","x":89.5,"y":0.025},{"c":"b","s":"sd","h":"l","x":91.5,"y":0.008},
{"c":"b","s":"da","h":"u","x":1,"y":0.125},{"c":"b","s":"da","h":"u","x":10,"y":0.1195},{"c":"b","s":"da","h":"u","x":20,"y":0.104},{"c":"b","s":"da","h":"u","x":30,"y":0.089},{"c":"b","s":"da","h":"u","x":40,"y":0.066},{"c":"b","s":"da","h":"u","x":46,"y":0.055},{"c":"b","s":"da","h":"u","x":51,"y":0.045},{"c":"b","s":"da","h":"u","x":55,"y":0.032},{"c":"b","s":"da","h":"u","x":58,"y":0.014},{"c":"b","s":"da","h":"u","x":61,"y":0.002},{"c":"b","s":"da","h":"u","x":65,"y":0.008},{"c":"b","s":"da","h":"u","x":69,"y":-0.004},{"c":"b","s":"da","h":"u","x":72,"y":0.002},{"c":"b","s":"da","h":"u","x":75,"y":0.004},{"c":"b","s":"da","h":"u","x":78,"y":0},{"c":"b","s":"da","h":"u","x":81,"y":0.006},{"c":"b","s":"da","h":"u","x":84,"y":0.003},{"c":"b","s":"da","h":"u","x":87,"y":-0.004},{"c":"b","s":"da","h":"u","x":89.5,"y":0.002},{"c":"b","s":"da","h":"u","x":91.5,"y":0.002},
{"c":"b","s":"da","h":"l","x":1,"y":-0.125},{"c":"b","s":"da","h":"l","x":10,"y":-0.120},{"c":"b","s":"da","h":"l","x":20,"y":-0.106},{"c":"b","s":"da","h":"l","x":30,"y":-0.092},{"c":"b","s":"da","h":"l","x":40,"y":-0.068},{"c":"b","s":"da","h":"l","x":46,"y":-0.057},{"c":"b","s":"da","h":"l","x":51,"y":-0.044},{"c":"b","s":"da","h":"l","x":55,"y":-0.027},{"c":"b","s":"da","h":"l","x":58,"y":-0.010},{"c":"b","s":"da","h":"l","x":61,"y":0.002},{"c":"b","s":"da","h":"l","x":65,"y":-0.004},{"c":"b","s":"da","h":"l","x":69,"y":0.004},{"c":"b","s":"da","h":"l","x":72,"y":-0.002},{"c":"b","s":"da","h":"l","x":75,"y":-0.006},{"c":"b","s":"da","h":"l","x":78,"y":0.004},{"c":"b","s":"da","h":"l","x":81,"y":-0.002},{"c":"b","s":"da","h":"l","x":84,"y":-0.006},{"c":"b","s":"da","h":"l","x":87,"y":0.002},{"c":"b","s":"da","h":"l","x":89.5,"y":-0.002},{"c":"b","s":"da","h":"l","x":91.5,"y":-0.002},
{"c":"b","s":"do","h":"u","x":1,"y":0.0623},{"c":"b","s":"do","h":"u","x":10,"y":0.056},{"c":"b","s":"do","h":"u","x":20,"y":0.0485},{"c":"b","s":"do","h":"u","x":30,"y":0.041},{"c":"b","s":"do","h":"u","x":40,"y":0.030},{"c":"b","s":"do","h":"u","x":46,"y":0.022},{"c":"b","s":"do","h":"u","x":51,"y":0.016},{"c":"b","s":"do","h":"u","x":55,"y":0.009},{"c":"b","s":"do","h":"u","x":58,"y":0.003},{"c":"b","s":"do","h":"u","x":61,"y":0.001},{"c":"b","s":"do","h":"u","x":65,"y":0.004},{"c":"b","s":"do","h":"u","x":69,"y":0.002},{"c":"b","s":"do","h":"u","x":72,"y":-0.004},{"c":"b","s":"do","h":"u","x":75,"y":0.004},{"c":"b","s":"do","h":"u","x":78,"y":0.006},{"c":"b","s":"do","h":"u","x":81,"y":-0.002},{"c":"b","s":"do","h":"u","x":84,"y":0.003},{"c":"b","s":"do","h":"u","x":87,"y":0.005},{"c":"b","s":"do","h":"u","x":89.5,"y":0},{"c":"b","s":"do","h":"u","x":91.5,"y":0.003},
{"c":"b","s":"do","h":"l","x":1,"y":-0.0624},{"c":"b","s":"do","h":"l","x":10,"y":-0.057},{"c":"b","s":"do","h":"l","x":20,"y":-0.0505},{"c":"b","s":"do","h":"l","x":30,"y":-0.042},{"c":"b","s":"do","h":"l","x":40,"y":-0.029},{"c":"b","s":"do","h":"l","x":46,"y":-0.021},{"c":"b","s":"do","h":"l","x":51,"y":-0.015},{"c":"b","s":"do","h":"l","x":55,"y":-0.008},{"c":"b","s":"do","h":"l","x":58,"y":-0.003},{"c":"b","s":"do","h":"l","x":61,"y":-0.001},{"c":"b","s":"do","h":"l","x":65,"y":-0.004},{"c":"b","s":"do","h":"l","x":69,"y":-0.002},{"c":"b","s":"do","h":"l","x":72,"y":0.004},{"c":"b","s":"do","h":"l","x":75,"y":-0.004},{"c":"b","s":"do","h":"l","x":78,"y":-0.006},{"c":"b","s":"do","h":"l","x":81,"y":0.002},{"c":"b","s":"do","h":"l","x":84,"y":-0.003},{"c":"b","s":"do","h":"l","x":87,"y":-0.005},{"c":"b","s":"do","h":"l","x":89.5,"y":0},{"c":"b","s":"do","h":"l","x":91.5,"y":-0.003},
{"c":"b","s":"so","h":"u","x":1,"y":0.031},{"c":"b","s":"so","h":"u","x":10,"y":0.028},{"c":"b","s":"so","h":"u","x":20,"y":0.0243},{"c":"b","s":"so","h":"u","x":30,"y":0.0202},{"c":"b","s":"so","h":"u","x":40,"y":0.0155},{"c":"b","s":"so","h":"u","x":46,"y":0.012},{"c":"b","s":"so","h":"u","x":51,"y":0.008},{"c":"b","s":"so","h":"u","x":55,"y":0.004},{"c":"b","s":"so","h":"u","x":58,"y":0.0008},{"c":"b","s":"so","h":"u","x":61,"y":0},{"c":"b","s":"so","h":"u","x":65,"y":-0.001},{"c":"b","s":"so","h":"u","x":69,"y":0.001},{"c":"b","s":"so","h":"u","x":72,"y":0},{"c":"b","s":"so","h":"u","x":75,"y":-0.001},{"c":"b","s":"so","h":"u","x":78,"y":0.001},{"c":"b","s":"so","h":"u","x":81,"y":0},{"c":"b","s":"so","h":"u","x":84,"y":-0.001},{"c":"b","s":"so","h":"u","x":87,"y":0},{"c":"b","s":"so","h":"u","x":89.5,"y":0.001},{"c":"b","s":"so","h":"u","x":91.5,"y":0},
{"c":"b","s":"so","h":"l","x":1,"y":-0.032},{"c":"b","s":"so","h":"l","x":10,"y":-0.0285},{"c":"b","s":"so","h":"l","x":20,"y":-0.0248},{"c":"b","s":"so","h":"l","x":30,"y":-0.0207},{"c":"b","s":"so","h":"l","x":40,"y":-0.0155},{"c":"b","s":"so","h":"l","x":46,"y":-0.012},{"c":"b","s":"so","h":"l","x":51,"y":-0.008},{"c":"b","s":"so","h":"l","x":55,"y":-0.004},{"c":"b","s":"so","h":"l","x":58,"y":-0.0008},{"c":"b","s":"so","h":"l","x":61,"y":0},{"c":"b","s":"so","h":"l","x":65,"y":0.001},{"c":"b","s":"so","h":"l","x":69,"y":-0.001},{"c":"b","s":"so","h":"l","x":72,"y":0},{"c":"b","s":"so","h":"l","x":75,"y":0.001},{"c":"b","s":"so","h":"l","x":78,"y":-0.001},{"c":"b","s":"so","h":"l","x":81,"y":0},{"c":"b","s":"so","h":"l","x":84,"y":0.001},{"c":"b","s":"so","h":"l","x":87,"y":0},{"c":"b","s":"so","h":"l","x":89.5,"y":-0.001},{"c":"b","s":"so","h":"l","x":91.5,"y":0}
]
},
"vconcat": [
{
 "width": 502, "height": 389,
 "resolve": {"axis": {"x": "independent", "y": "independent"}},
 "layer": [
  {"data": {"name": "gr"},
   "mark": {"type": "line", "strokeWidth": 2.5, "interpolate": "monotone", "clip": true},
   "encoding": {
    "x": {"field": "x", "type": "quantitative", "scale": {"domain": [0, 91.5], "nice": false, "zero": false}, "axis": {"orient": "bottom", "values": [0, 20, 40, 60, 80], "tickSize": -5, "labelPadding": 6, "title": null}},
    "y": {"field": "y", "type": "quantitative", "scale": {"domain": [-0.26, 0.26], "nice": false, "zero": false}, "axis": {"orient": "left", "values": [-0.2, -0.1, 0, 0.1, 0.2], "format": ".1f", "tickSize": -5, "labelPadding": 7, "title": null}},
    "color": {"field": "c", "type": "nominal", "scale": {"domain": ["r", "g", "b"], "range": ["#ff0000", "#008000", "#0000ff"]}, "legend": null},
    "strokeDash": {"field": "s", "type": "nominal", "scale": {"domain": ["so", "da", "do", "sd"], "range": [[1, 0], [7, 4], [2, 3], [2, 6]]}, "legend": null},
    "detail": {"field": "h"}
   }},
  {"data": {"name": "one"}, "mark": {"type": "text", "align": "left", "baseline": "alphabetic", "fontSize": 21},
   "encoding": {
    "x": {"datum": 70, "type": "quantitative", "axis": {"orient": "top", "values": [0, 20, 40, 60, 80], "labels": false, "tickSize": -5, "title": null}},
    "y": {"datum": 0.199, "type": "quantitative", "axis": {"orient": "right", "values": [-0.2, -0.1, 0, 0.1, 0.2], "labels": false, "tickSize": -5, "title": null}},
    "text": {"value": "GR"}}},
  {"data": {"name": "one"}, "mark": {"type": "text", "align": "left", "baseline": "alphabetic", "angle": 270, "fontSize": 19}, "encoding": {"x": {"datum": -11.2, "type": "quantitative", "axis": null}, "y": {"datum": 0.0584, "type": "quantitative", "axis": null}, "text": {"value": "d"}}},
  {"data": {"name": "one"}, "mark": {"type": "text", "align": "left", "baseline": "alphabetic", "angle": 270, "fontSize": 13}, "encoding": {"x": {"datum": -10.3, "type": "quantitative", "axis": null}, "y": {"datum": 0.073, "type": "quantitative", "axis": null}, "text": {"value": "OD"}}},
  {"data": {"name": "one"}, "mark": {"type": "text", "align": "left", "baseline": "alphabetic", "angle": 270, "fontSize": 13}, "encoding": {"x": {"datum": -12.6, "type": "quantitative", "axis": null}, "y": {"datum": 0.073, "type": "quantitative", "axis": null}, "text": {"value": "Low res."}}},
  {"data": {"name": "one"}, "mark": {"type": "text", "align": "left", "baseline": "alphabetic", "angle": 270, "fontSize": 19}, "encoding": {"x": {"datum": -11.2, "type": "quantitative", "axis": null}, "y": {"datum": 0.140, "type": "quantitative", "axis": null}, "text": {"value": "/L"}}},
  {"data": {"name": "one"}, "mark": {"type": "text", "align": "left", "baseline": "alphabetic", "angle": 270, "fontSize": 19}, "encoding": {"x": {"datum": -11.2, "type": "quantitative", "axis": null}, "y": {"datum": -0.1755, "type": "quantitative", "axis": null}, "text": {"value": "−d"}}},
  {"data": {"name": "one"}, "mark": {"type": "text", "align": "left", "baseline": "alphabetic", "angle": 270, "fontSize": 13}, "encoding": {"x": {"datum": -10.3, "type": "quantitative", "axis": null}, "y": {"datum": -0.1448, "type": "quantitative", "axis": null}, "text": {"value": "OD"}}},
  {"data": {"name": "one"}, "mark": {"type": "text", "align": "left", "baseline": "alphabetic", "angle": 270, "fontSize": 13}, "encoding": {"x": {"datum": -12.6, "type": "quantitative", "axis": null}, "y": {"datum": -0.1475, "type": "quantitative", "axis": null}, "text": {"value": "High res."}}},
  {"data": {"name": "one"}, "mark": {"type": "text", "align": "left", "baseline": "alphabetic", "angle": 270, "fontSize": 19}, "encoding": {"x": {"datum": -11.2, "type": "quantitative", "axis": null}, "y": {"datum": -0.0686, "type": "quantitative", "axis": null}, "text": {"value": "/L"}}},
  {"data": {"name": "one"}, "mark": {"type": "text", "align": "left", "baseline": "alphabetic", "fontSize": 19}, "encoding": {"x": {"datum": 44.5, "type": "quantitative", "axis": null}, "y": {"datum": -0.3142, "type": "quantitative", "axis": null}, "text": {"value": "a"}}},
  {"data": {"name": "one"}, "mark": {"type": "text", "align": "left", "baseline": "alphabetic", "fontSize": 13}, "encoding": {"x": {"datum": 46.1, "type": "quantitative", "axis": null}, "y": {"datum": -0.317, "type": "quantitative", "axis": null}, "text": {"value": "p"}}}
 ]
},
{
 "width": 502, "height": 389,
 "resolve": {"axis": {"x": "independent", "y": "independent"}},
 "layer": [
  {"data": {"name": "nw"},
   "mark": {"type": "line", "strokeWidth": 2.5, "interpolate": "monotone", "clip": true},
   "encoding": {
    "x": {"field": "x", "type": "quantitative", "scale": {"domain": [0, 91.5], "nice": false, "zero": false}, "axis": {"orient": "bottom", "values": [0, 20, 40, 60, 80], "tickSize": -5, "labelPadding": 6, "title": null}},
    "y": {"field": "y", "type": "quantitative", "scale": {"domain": [-0.26, 0.26], "nice": false, "zero": false}, "axis": {"orient": "left", "values": [-0.2, -0.1, 0, 0.1, 0.2], "format": ".1f", "tickSize": -5, "labelPadding": 7, "title": null}},
    "color": {"field": "c", "type": "nominal", "scale": {"domain": ["r", "g", "b"], "range": ["#ff0000", "#008000", "#0000ff"]}, "legend": null},
    "strokeDash": {"field": "s", "type": "nominal", "scale": {"domain": ["so", "da", "do", "sd"], "range": [[1, 0], [7, 4], [2, 3], [2, 6]]}, "legend": null},
    "detail": {"field": "h"}
   }},
  {"data": {"name": "one"}, "mark": {"type": "text", "align": "left", "baseline": "alphabetic", "fontSize": 21},
   "encoding": {
    "x": {"datum": 70, "type": "quantitative", "axis": {"orient": "top", "values": [0, 20, 40, 60, 80], "labels": false, "tickSize": -5, "title": null}},
    "y": {"datum": 0.199, "type": "quantitative", "axis": {"orient": "right", "values": [-0.2, -0.1, 0, 0.1, 0.2], "labels": false, "tickSize": -5, "title": null}},
    "text": {"value": "Newtonian"}}},
  {"data": {"name": "one"}, "mark": {"type": "text", "align": "left", "baseline": "alphabetic", "angle": 270, "fontSize": 19}, "encoding": {"x": {"datum": -11.2, "type": "quantitative", "axis": null}, "y": {"datum": 0.0584, "type": "quantitative", "axis": null}, "text": {"value": "d"}}},
  {"data": {"name": "one"}, "mark": {"type": "text", "align": "left", "baseline": "alphabetic", "angle": 270, "fontSize": 13}, "encoding": {"x": {"datum": -10.3, "type": "quantitative", "axis": null}, "y": {"datum": 0.073, "type": "quantitative", "axis": null}, "text": {"value": "OD"}}},
  {"data": {"name": "one"}, "mark": {"type": "text", "align": "left", "baseline": "alphabetic", "angle": 270, "fontSize": 13}, "encoding": {"x": {"datum": -12.6, "type": "quantitative", "axis": null}, "y": {"datum": 0.073, "type": "quantitative", "axis": null}, "text": {"value": "Low res."}}},
  {"data": {"name": "one"}, "mark": {"type": "text", "align": "left", "baseline": "alphabetic", "angle": 270, "fontSize": 19}, "encoding": {"x": {"datum": -11.2, "type": "quantitative", "axis": null}, "y": {"datum": 0.140, "type": "quantitative", "axis": null}, "text": {"value": "/L"}}},
  {"data": {"name": "one"}, "mark": {"type": "text", "align": "left", "baseline": "alphabetic", "angle": 270, "fontSize": 19}, "encoding": {"x": {"datum": -11.2, "type": "quantitative", "axis": null}, "y": {"datum": -0.1755, "type": "quantitative", "axis": null}, "text": {"value": "−d"}}},
  {"data": {"name": "one"}, "mark": {"type": "text", "align": "left", "baseline": "alphabetic", "angle": 270, "fontSize": 13}, "encoding": {"x": {"datum": -10.3, "type": "quantitative", "axis": null}, "y": {"datum": -0.1448, "type": "quantitative", "axis": null}, "text": {"value": "OD"}}},
  {"data": {"name": "one"}, "mark": {"type": "text", "align": "left", "baseline": "alphabetic", "angle": 270, "fontSize": 13}, "encoding": {"x": {"datum": -12.6, "type": "quantitative", "axis": null}, "y": {"datum": -0.1475, "type": "quantitative", "axis": null}, "text": {"value": "High res."}}},
  {"data": {"name": "one"}, "mark": {"type": "text", "align": "left", "baseline": "alphabetic", "angle": 270, "fontSize": 19}, "encoding": {"x": {"datum": -11.2, "type": "quantitative", "axis": null}, "y": {"datum": -0.0686, "type": "quantitative", "axis": null}, "text": {"value": "/L"}}},
  {"data": {"name": "one"}, "mark": {"type": "text", "align": "left", "baseline": "alphabetic", "fontSize": 19}, "encoding": {"x": {"datum": 44.5, "type": "quantitative", "axis": null}, "y": {"datum": -0.3142, "type": "quantitative", "axis": null}, "text": {"value": "a"}}},
  {"data": {"name": "one"}, "mark": {"type": "text", "align": "left", "baseline": "alphabetic", "fontSize": 13}, "encoding": {"x": {"datum": 46.1, "type": "quantitative", "axis": null}, "y": {"datum": -0.317, "type": "quantitative", "axis": null}, "text": {"value": "p"}}}
 ]
}
]
}
